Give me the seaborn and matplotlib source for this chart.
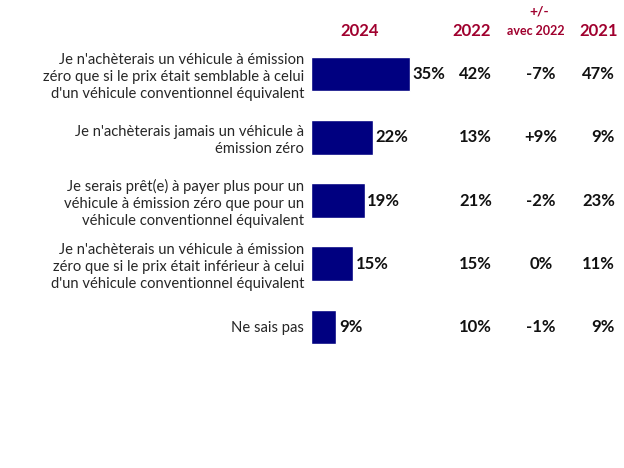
import matplotlib
matplotlib.use('Agg')
import matplotlib.pyplot as plt
import matplotlib.transforms as mtransforms
import seaborn as sns
import pandas as pd

categories = [
    "Je n'achèterais un véhicule à émission\nzéro que si le prix était semblable à celui\nd'un véhicule conventionnel équivalent",
    "Je n'achèterais jamais un véhicule à\némission zéro",
    "Je serais prêt(e) à payer plus pour un\nvéhicule à émission zéro que pour un\nvéhicule conventionnel équivalent",
    "Je n'achèterais un véhicule à émission\nzéro que si le prix était inférieur à celui\nd'un véhicule conventionnel équivalent",
    "Ne sais pas",
]
v2024 = [35, 22, 19, 15, 9]
v2022 = [42, 13, 21, 15, 10]
diff2022 = [-7, 9, -2, 0, -1]
v2021 = [47, 9, 23, 11, 9]

sns.set_theme(style='white')
plt.rcParams['font.family'] = ['Lato', 'DejaVu Sans']

W, H = 624, 468
fig = plt.figure(figsize=(W / 100, H / 100), dpi=100)
top_px, bot_px = 42.4, 358.6
ax = fig.add_axes([311 / W, 1 - bot_px / H, 313 / W, (bot_px - top_px) / H])

df = pd.DataFrame({'cat': categories, 'v': v2024})
sns.barplot(data=df, x='v', y='cat', color='#000080', saturation=1, width=0.55, ax=ax)
ax.set_xlim(0, 110.6)
ax.set_ylim(4.5, -0.5)
ax.set_xlabel('')
ax.set_ylabel('')
ax.set_xticks([])
sns.despine(ax=ax, left=True, bottom=True)
ax.tick_params(axis='y', length=0, pad=5)
for lab in ax.get_yticklabels():
    lab.set_fontsize(10.6)
    lab.set_color('#262626')
    lab.set_multialignment('right')
    lab.set_linespacing(1.3)

for i, v in enumerate(v2024):
    ax.annotate(f"{v}%", (v, i), xytext=(2.5, 0), textcoords='offset pixels',
                ha='left', va='center', fontsize=12, fontweight='bold', color='#111111')

tr = mtransforms.blended_transform_factory(fig.transFigure, ax.transData)
for i in range(len(categories)):
    ax.text(492 / W, i, f"{v2022[i]}%", transform=tr, ha='right', va='center',
            fontsize=12, fontweight='bold', color='#111111')
    d = diff2022[i]
    ds = f"+{d}%" if d > 0 else f"{d}%"
    ax.text(541 / W, i, ds, transform=tr, ha='center', va='center',
            fontsize=12, fontweight='bold', color='#111111')
    ax.text(615 / W, i, f"{v2021[i]}%", transform=tr, ha='right', va='center',
            fontsize=12, fontweight='bold', color='#111111')

hc = '#A0002E'
fig.text(360 / W, 1 - 31 / H, '2024', ha='center', va='center', fontsize=12, fontweight='bold', color=hc)
fig.text(472 / W, 1 - 31 / H, '2022', ha='center', va='center', fontsize=12, fontweight='bold', color=hc)
fig.text(539 / W, 1 - 12 / H, '+/-', ha='center', va='center', fontsize=10, fontweight='bold', color=hc)
fig.text(536 / W, 1 - 31 / H, 'avec 2022', ha='center', va='center', fontsize=9, fontweight='bold', color=hc)
fig.text(599 / W, 1 - 31 / H, '2021', ha='center', va='center', fontsize=12, fontweight='bold', color=hc)

fig.savefig('out.png', dpi=100)
